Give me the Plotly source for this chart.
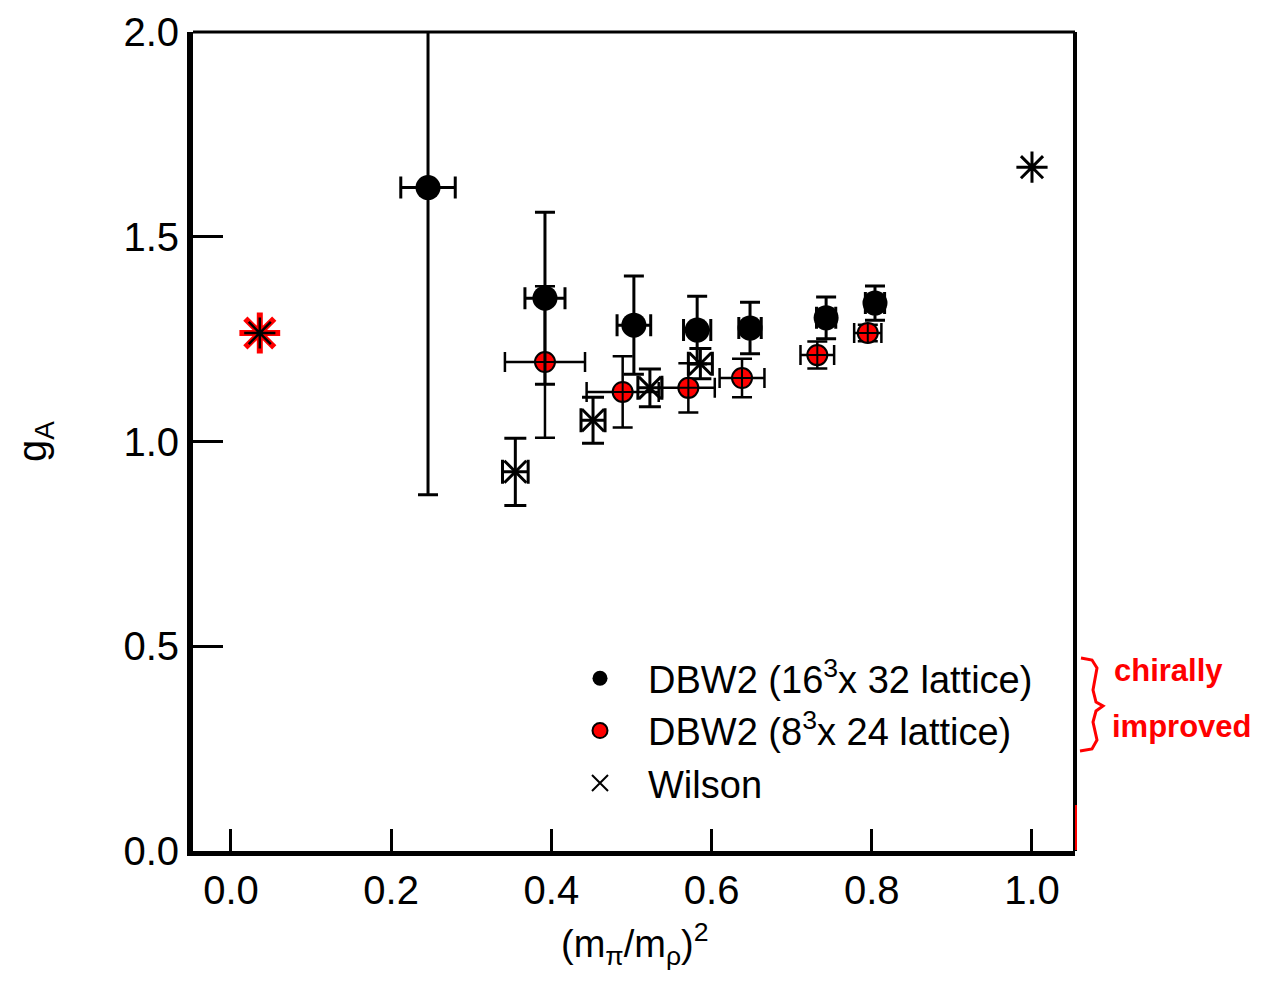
import plotly.graph_objects as go

# ---------------- data ----------------
dbw16_x = [0.246, 0.392, 0.503, 0.582, 0.648, 0.743, 0.804]
dbw16_y = [1.62, 1.35, 1.284, 1.272, 1.277, 1.302, 1.338]
dbw16_yerr = [0.75, 0.21, 0.12, 0.083, 0.063, 0.051, 0.042]
dbw16_xerr = [0.034, 0.025, 0.021, 0.017, 0.014, 0.012, 0.012]

dbw8_x = [0.392, 0.489, 0.571, 0.638, 0.732, 0.795]
dbw8_y = [1.194, 1.121, 1.131, 1.155, 1.211, 1.265]
dbw8_yerr = [0.185, 0.087, 0.06, 0.047, 0.033, 0.02]
dbw8_xerr = [0.05, 0.045, 0.033, 0.028, 0.021, 0.017]

wil_x = [0.355, 0.452, 0.523, 0.586]
wil_y = [0.926, 1.052, 1.131, 1.19]
wil_yerr = [0.082, 0.056, 0.046, 0.037]
wil_xerr = [0.016, 0.015, 0.015, 0.015]

exp_x = [0.036]
exp_y = [1.265]

heavy_x = [1.0]
heavy_y = [1.670]

x_ticks = [0.0, 0.2, 0.4, 0.6, 0.8, 1.0]
x_ticklabels = ["0.0", "0.2", "0.4", "0.6", "0.8", "1.0"]
y_ticks = [0.0, 0.5, 1.0, 1.5, 2.0]
y_ticklabels = ["0.0", "0.5", "1.0", "1.5", "2.0"]

legend_names = ["DBW2 (16<sup>3</sup>x 32 lattice)", "DBW2 (8<sup>3</sup>x 24 lattice)", "Wilson"]

FONT = "Liberation Sans, Arial, Helvetica, sans-serif"

# ---------------- layout geometry (page pixels; page body has an 8px margin) ----------------
OFF = 8
L, R, T, B = 193, 1075, 32, 851
W, H = 1265 - 2 * OFF, 982 - 2 * OFF


def px2paper(X, Y):
    return (X - L) / (R - L), (B - Y) / (B - T)


fig = go.Figure()

# Wilson
fig.add_trace(go.Scatter(
    x=wil_x, y=wil_y, mode="markers", showlegend=False,
    marker=dict(symbol="x-thin-open", size=22, color="black", line=dict(color="black", width=3)),
    error_y=dict(type="data", array=wil_yerr, color="black", thickness=3, width=11),
    error_x=dict(type="data", array=wil_xerr, color="black", thickness=3, width=12),
))

# DBW2 8^3
fig.add_trace(go.Scatter(
    x=dbw8_x, y=dbw8_y, mode="markers", showlegend=False,
    marker=dict(symbol="circle-cross", size=20, color="#ff0000", line=dict(color="black", width=2)),
    error_y=dict(type="data", array=dbw8_yerr, color="black", thickness=2.5, width=10),
    error_x=dict(type="data", array=dbw8_xerr, color="black", thickness=2.5, width=10),
))

# DBW2 16^3
fig.add_trace(go.Scatter(
    x=dbw16_x, y=dbw16_y, mode="markers", showlegend=False,
    marker=dict(symbol="circle", size=25, color="black"),
    error_y=dict(type="data", array=dbw16_yerr, color="black", thickness=3, width=10),
    error_x=dict(type="data", array=dbw16_xerr, color="black", thickness=3, width=11),
))

# experimental value (red asterisk with black core)
fig.add_trace(go.Scatter(
    x=exp_x, y=exp_y, mode="markers", showlegend=False,
    marker=dict(symbol="asterisk-open", size=34, color="#ff0000", line=dict(color="#ff0000", width=6)),
))
fig.add_trace(go.Scatter(
    x=exp_x, y=exp_y, mode="markers", showlegend=False,
    marker=dict(symbol="asterisk-open", size=26, color="black", line=dict(color="black", width=2.5)),
))
# heavy point
fig.add_trace(go.Scatter(
    x=heavy_x, y=heavy_y, mode="markers", showlegend=False,
    marker=dict(symbol="asterisk-open", size=26, color="black", line=dict(color="black", width=3)),
))

# legend entries
fig.add_trace(go.Scatter(x=[None], y=[None], mode="markers", name=legend_names[0],
                         marker=dict(symbol="circle", size=15, color="black")))
fig.add_trace(go.Scatter(x=[None], y=[None], mode="markers", name=legend_names[1],
                         marker=dict(symbol="circle", size=15, color="#ff0000", line=dict(color="black", width=2))))
fig.add_trace(go.Scatter(x=[None], y=[None], mode="markers", name=legend_names[2],
                         marker=dict(symbol="x-thin-open", size=16, color="black", line=dict(color="black", width=2))))

# frame top/right
shapes = [
    dict(type="line", xref="x domain", yref="y domain", x0=0, x1=1, y0=1, y1=1,
         line=dict(color="black", width=3)),
    dict(type="line", xref="x domain", yref="y domain", x0=1, x1=1, y0=0, y1=1,
         line=dict(color="black", width=4)),
]
# red mark on right border
x0p, y0p = px2paper(1076, 805)
x1p, y1p = px2paper(1076, 850)
shapes.append(dict(type="line", xref="paper", yref="paper", x0=x0p, x1=x1p, y0=y0p, y1=y1p,
                   line=dict(color="#ff0000", width=2)))

# handwritten brace
brace_pts = [(1081, 658), (1092, 660), (1097, 668), (1093, 690), (1096, 702), (1103, 706),
             (1096, 711), (1093, 722), (1097, 740), (1092, 749), (1080, 751)]
pp = [px2paper(X, Y) for X, Y in brace_pts]
path = "M {:.5f},{:.5f} ".format(*pp[0]) + " ".join("L {:.5f},{:.5f}".format(*p) for p in pp[1:])
shapes.append(dict(type="path", xref="paper", yref="paper", path=path,
                   line=dict(color="#ff0000", width=3)))

annotations = []
ax, ay = px2paper(634, 944)
annotations.append(dict(xref="paper", yref="paper", x=ax, y=ay, showarrow=False,
                        text="(m<sub>π</sub>/m<sub>ρ</sub>)<sup>2</sup>",
                        font=dict(family=FONT, size=38, color="black"), xanchor="center", yanchor="middle"))
gx, gy = px2paper(35, 442)
annotations.append(dict(xref="paper", yref="paper", x=gx, y=gy, showarrow=False,
                        text="g<sub>A</sub>", textangle=-90,
                        font=dict(family=FONT, size=40, color="black"), xanchor="center", yanchor="middle"))
cx, cy = px2paper(1112, 670)
annotations.append(dict(xref="paper", yref="paper", x=cx, y=cy, showarrow=False, text="<b>chirally</b>",
                        font=dict(family=FONT, size=31, color="#ff0000"), xanchor="left", yanchor="middle"))
ix, iy = px2paper(1110, 726)
annotations.append(dict(xref="paper", yref="paper", x=ix, y=iy, showarrow=False, text="<b>improved</b>",
                        font=dict(family=FONT, size=31, color="#ff0000"), xanchor="left", yanchor="middle"))

lx, ly = px2paper(552, 647)

fig.update_layout(
    width=W, height=H, autosize=False,
    margin=dict(l=L - OFF, r=(W + OFF) - R, t=T - OFF, b=(H + OFF) - B, pad=0, autoexpand=False),
    paper_bgcolor="white", plot_bgcolor="white",
    font=dict(family=FONT, size=40, color="black"),
    showlegend=True,
    legend=dict(x=lx, y=ly, xanchor="left", yanchor="top", bgcolor="rgba(0,0,0,0)",
                font=dict(family=FONT, size=38, color="black"), itemwidth=86,
                tracegroupgap=0, borderwidth=0),
    shapes=shapes, annotations=annotations,
    xaxis=dict(range=[-0.0474, 1.0537], tickvals=x_ticks, ticktext=x_ticklabels,
               ticks="inside", ticklen=22, tickwidth=3, tickcolor="black",
               showline=True, linewidth=5, linecolor="black", mirror=False,
               showgrid=False, zeroline=False, ticklabelstandoff=0, automargin=False,
               tickfont=dict(family=FONT, size=40, color="black")),
    yaxis=dict(range=[0, 2.0], tickvals=y_ticks, ticktext=y_ticklabels,
               ticks="inside", ticklen=30, tickwidth=3, tickcolor="black",
               showline=True, linewidth=6, linecolor="black", mirror=False,
               showgrid=False, zeroline=False, ticklabelstandoff=0, automargin=False,
               tickfont=dict(family=FONT, size=40, color="black")),
)

fig.write_html("out.html")
